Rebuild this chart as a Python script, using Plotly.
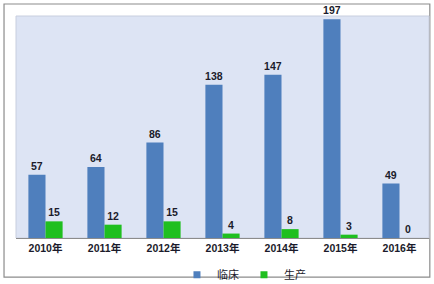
import plotly.graph_objects as go

years = ["2010年", "2011年", "2012年", "2013年", "2014年", "2015年", "2016年"]
clinical = [57, 64, 86, 138, 147, 197, 49]
production = [15, 12, 15, 4, 8, 3, 0]
series_names = ["临床", "生产"]
colors = ["#4f7fbd", "#1fbf1f"]

FONT = "Liberation Sans, Noto Sans CJK SC, sans-serif"

fig = go.Figure()
for name, vals, col in zip(series_names, [clinical, production], colors):
    fig.add_trace(go.Bar(
        x=years, y=vals, name=name, showlegend=False, legendgroup=name,
        marker=dict(color=col, line=dict(width=0)),
        text=[str(v) for v in vals], textposition="outside",
        textfont=dict(family=FONT, size=10.5, color="#1b1b2b", weight="bold"),
        constraintext="none", cliponaxis=False,
    ))
# legend swatches (small squares like the reference)
for name, col in zip(series_names, colors):
    fig.add_trace(go.Scatter(
        x=[years[0]], y=[None], mode="markers", name=name, legendgroup=name,
        marker=dict(symbol="square", size=7, color=col), showlegend=True,
    ))

fig.update_layout(
    width=434, height=284,
    margin=dict(l=16, r=5, t=16, b=46, autoexpand=False),
    paper_bgcolor="white",
    plot_bgcolor="#dde4f4",
    barmode="group",
    bargap=0.42,
    bargroupgap=0,
    font=dict(family=FONT, size=11, color="#1b1b2b"),
    showlegend=True,
    legend=dict(
        orientation="h", x=0.552, xanchor="center", y=-0.1, yanchor="top",
        font=dict(family=FONT, size=11, color="#1b1b2b"),
        bgcolor="rgba(0,0,0,0)", itemwidth=30,
    ),
    xaxis=dict(
        showgrid=False, showline=True, linecolor="#8c8c8c", linewidth=1,
        ticks="", tickfont=dict(family=FONT, size=10.5, color="#1b1b2b", weight="bold"),
        automargin=False, fixedrange=True,
    ),
    yaxis=dict(
        range=[0, 200], showgrid=False, showticklabels=False, zeroline=False,
        showline=False, ticks="", automargin=False,
    ),
    shapes=[
        dict(type="rect", xref="paper", yref="paper",
             x0=-0.029, x1=1.002, y0=-0.176, y1=1.054,
             line=dict(color="#8c8c8c", width=1.2), fillcolor="rgba(0,0,0,0)", layer="below"),
        dict(type="rect", xref="paper", yref="paper",
             x0=0, x1=1, y0=0, y1=1,
             line=dict(color="#c8cede", width=1), fillcolor="rgba(0,0,0,0)", layer="below"),
    ],
)

fig.write_html("out.html")
